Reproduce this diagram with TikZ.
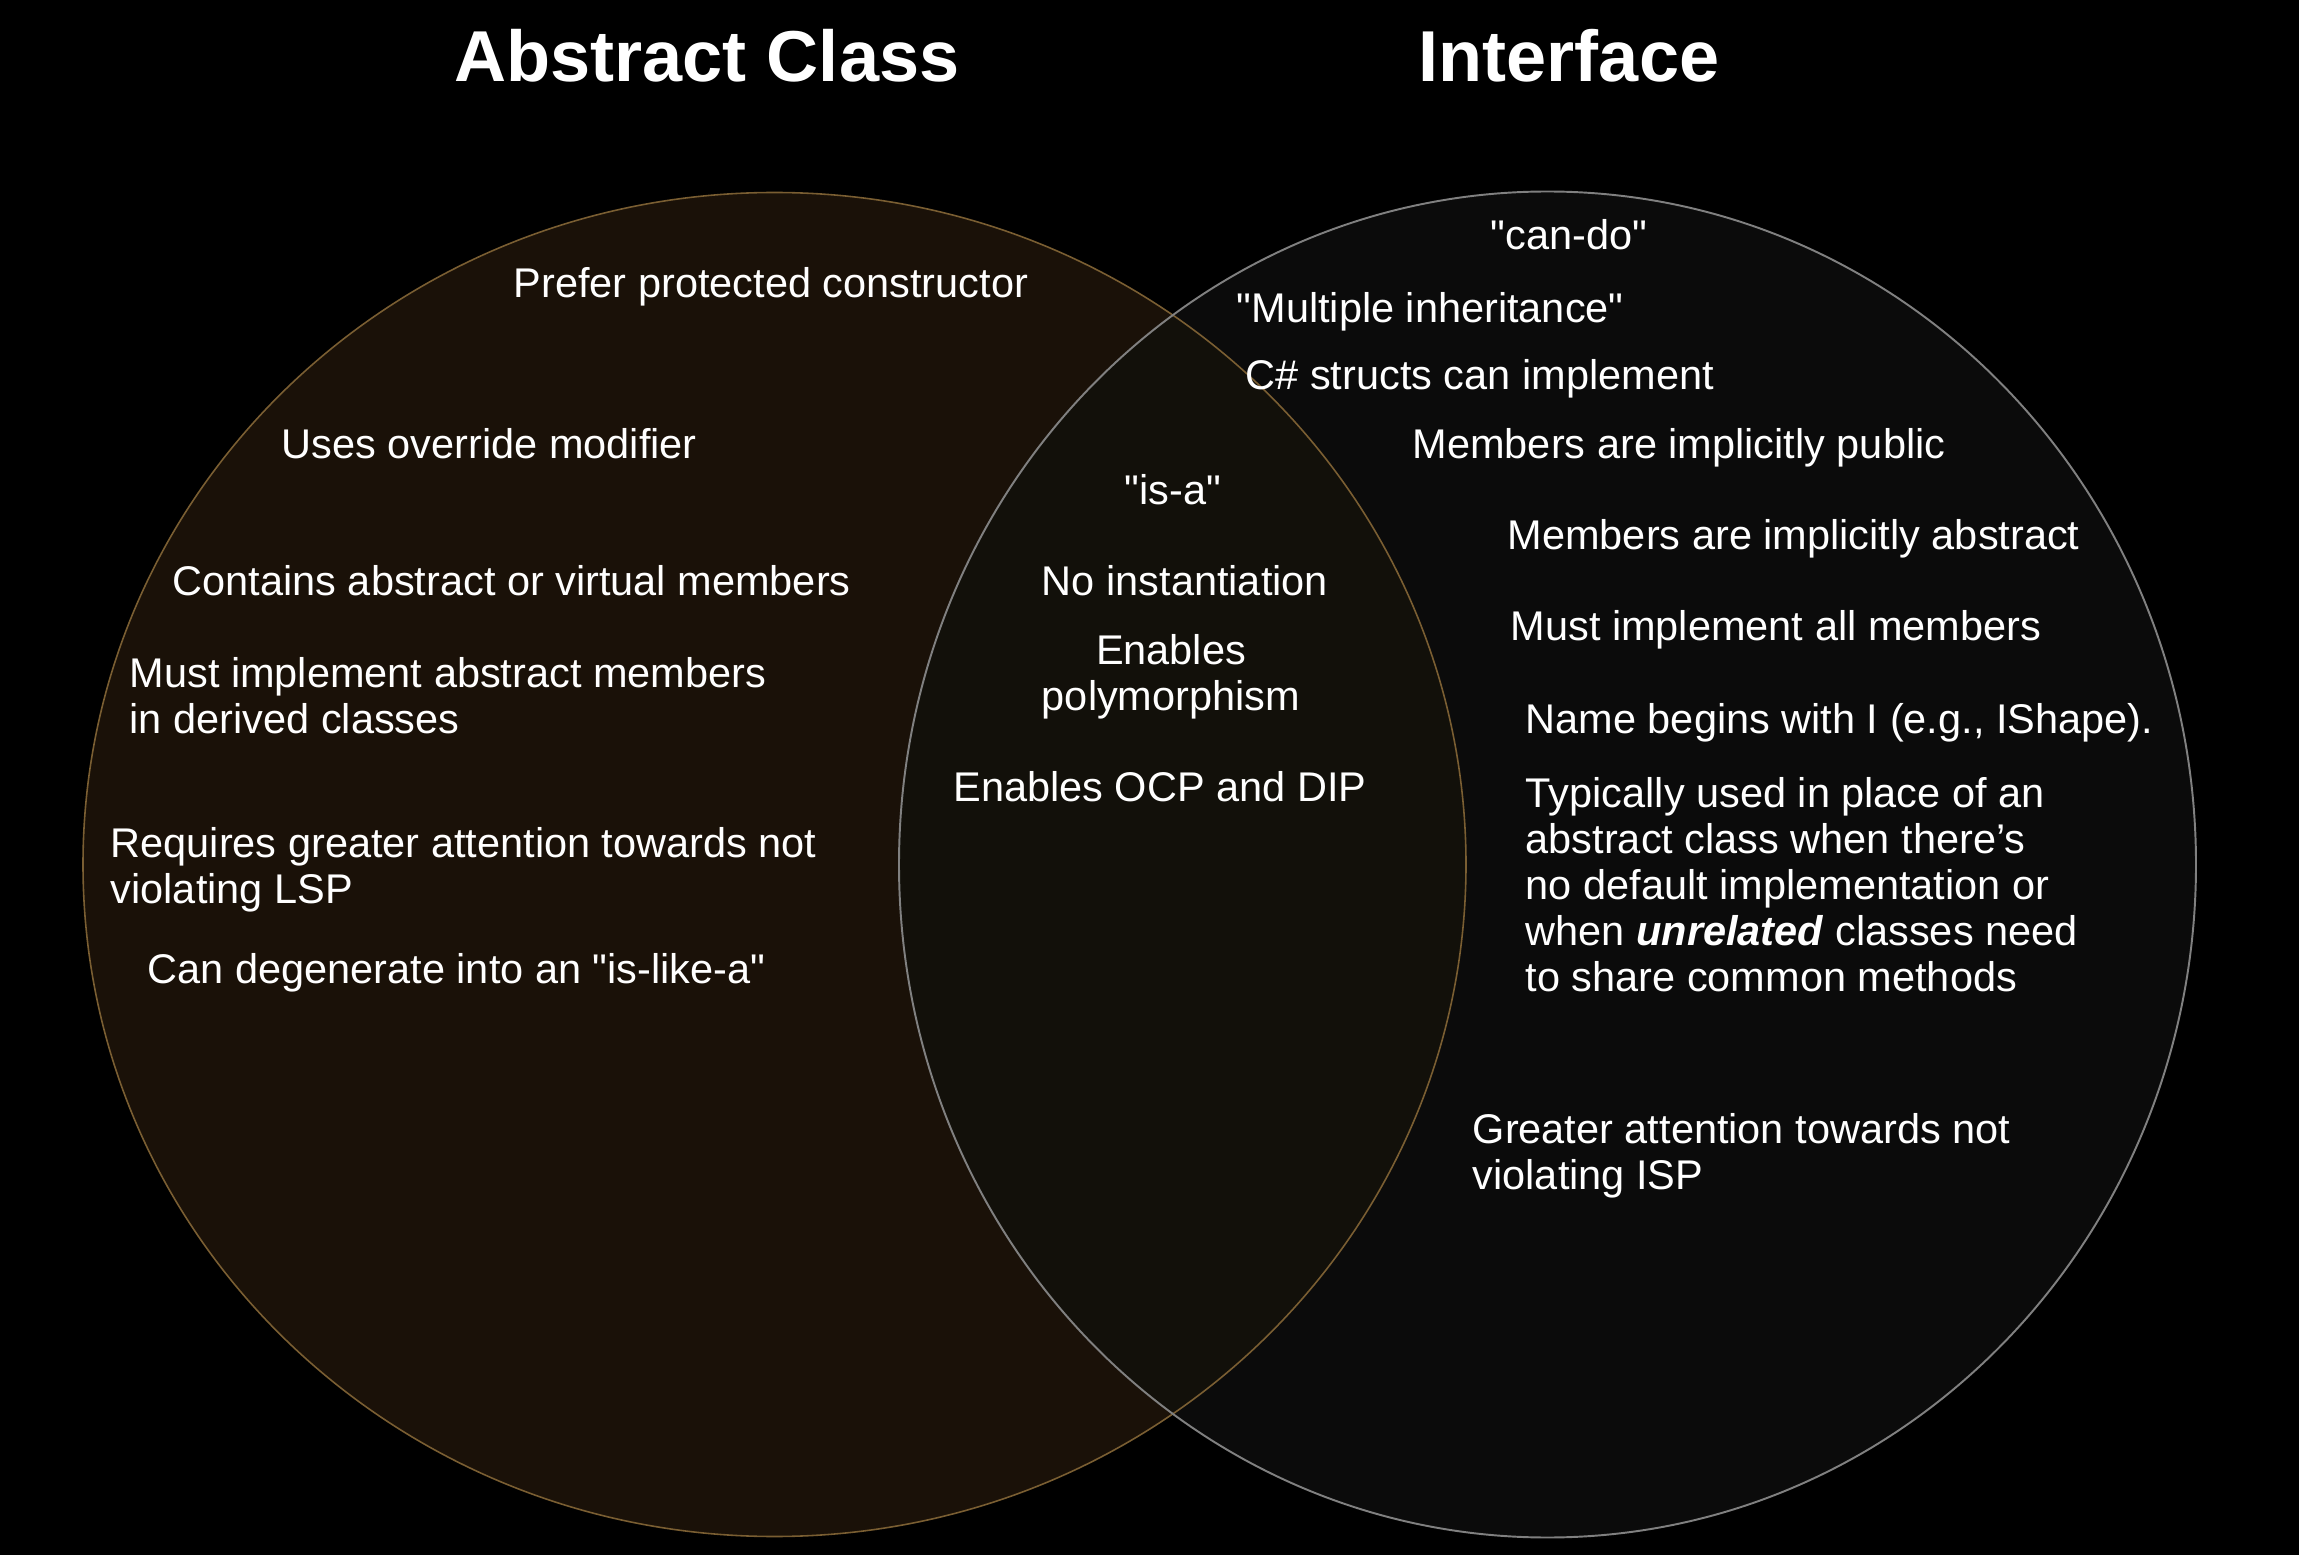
\documentclass[tikz,border=0pt]{standalone}
\usepackage{fontspec}
\setmainfont{Liberation Sans}
% same face without TeX quote mapping, so " stays a straight quote
\newfontfamily\bodyfont{Liberation Sans}
\begin{document}
\begin{tikzpicture}[x=0.01cm,y=-0.01cm,
  title/.style={text=white,font=\bodyfont\fontsize{20.5pt}{24pt}\selectfont\bfseries,inner sep=0pt},
  item/.style={text=white,font=\bodyfont\fontsize{11.8pt}{13.1pt}\selectfont,inner sep=0pt,align=left},
  mid/.style={item,align=center}]
\definecolor{absfill}{HTML}{1A1108}
\definecolor{absline}{HTML}{7A5E32}
\definecolor{intfill}{HTML}{0B0B0B}
\definecolor{intline}{HTML}{808080}
\definecolor{bothfill}{HTML}{12100A}

% background
\fill[black] (0,0) rectangle (2299,1555);
\useasboundingbox (0,0) rectangle (2299,1555);

% the two sets
\fill[absfill] (774.5,864.5) ellipse [x radius=691.5, y radius=672];
\fill[intfill] (1547.5,864.5) ellipse [x radius=648.5, y radius=673];
\begin{scope}
  \clip (774.5,864.5) ellipse [x radius=691.5, y radius=672];
  \fill[bothfill] (1547.5,864.5) ellipse [x radius=648.5, y radius=673];
\end{scope}
\draw[absline,line width=0.45pt] (774.5,864.5) ellipse [x radius=691.5, y radius=672];
\draw[intline,line width=0.55pt] (1547.5,864.5) ellipse [x radius=648.5, y radius=673];

% headings
\node[title] (tabs) at (707,56) {Abstract Class};
\node[title] (tint) at (1569,56) {Interface};

% abstract class only
\node[item,anchor=base west] (a1) at (513,298) {Prefer protected constructor};
\node[item,anchor=base west] (a2) at (281,459) {Uses override modifier};
\node[item,anchor=base west] (a3) at (172,596) {Contains abstract or virtual members};
\node[item,anchor=west] (a4) at (129,696) {Must implement abstract members\\in derived classes};
\node[item,anchor=west] (a5) at (110,870) {Requires greater attention towards not\\violating LSP};
\node[item,anchor=base west] (a6) at (147,983) {Can degenerate into an "is-like-a"};

% shared
\node[mid,anchor=base] (m1) at (1173,505) {"is-a"};
\node[mid,anchor=base] (m2) at (1185,596) {No instantiation};
\node[mid] (m3) at (1171,677) {Enables\\polymorphism};
\node[mid,anchor=base] (m4) at (1160,801) {Enables OCP and DIP};

% interface only
\node[mid,anchor=base] (i1) at (1569,250) {"can-do"};
\node[item,anchor=base west] (i2) at (1236,323) {"Multiple inheritance"};
\node[item,anchor=base west] (i3) at (1245,390) {C\# structs can implement};
\node[item,anchor=base west] (i4) at (1412,459) {Members are implicitly public};
\node[item,anchor=base west] (i5) at (1507,550) {Members are implicitly abstract};
\node[item,anchor=base west] (i6) at (1510,641) {Must implement all members};
\node[item,anchor=base west] (i7) at (1525,733) {Name begins with I (e.g., IShape).};
\node[item,anchor=west] (i8) at (1525,885) {Typically used in place of an\\abstract class when there’s\\no default implementation or\\when \textbf{\textit{unrelated}} classes need\\to share common methods};
\node[item,anchor=west] (i9) at (1472,1156) {Greater attention towards not\\violating ISP};
\end{tikzpicture}
\end{document}
